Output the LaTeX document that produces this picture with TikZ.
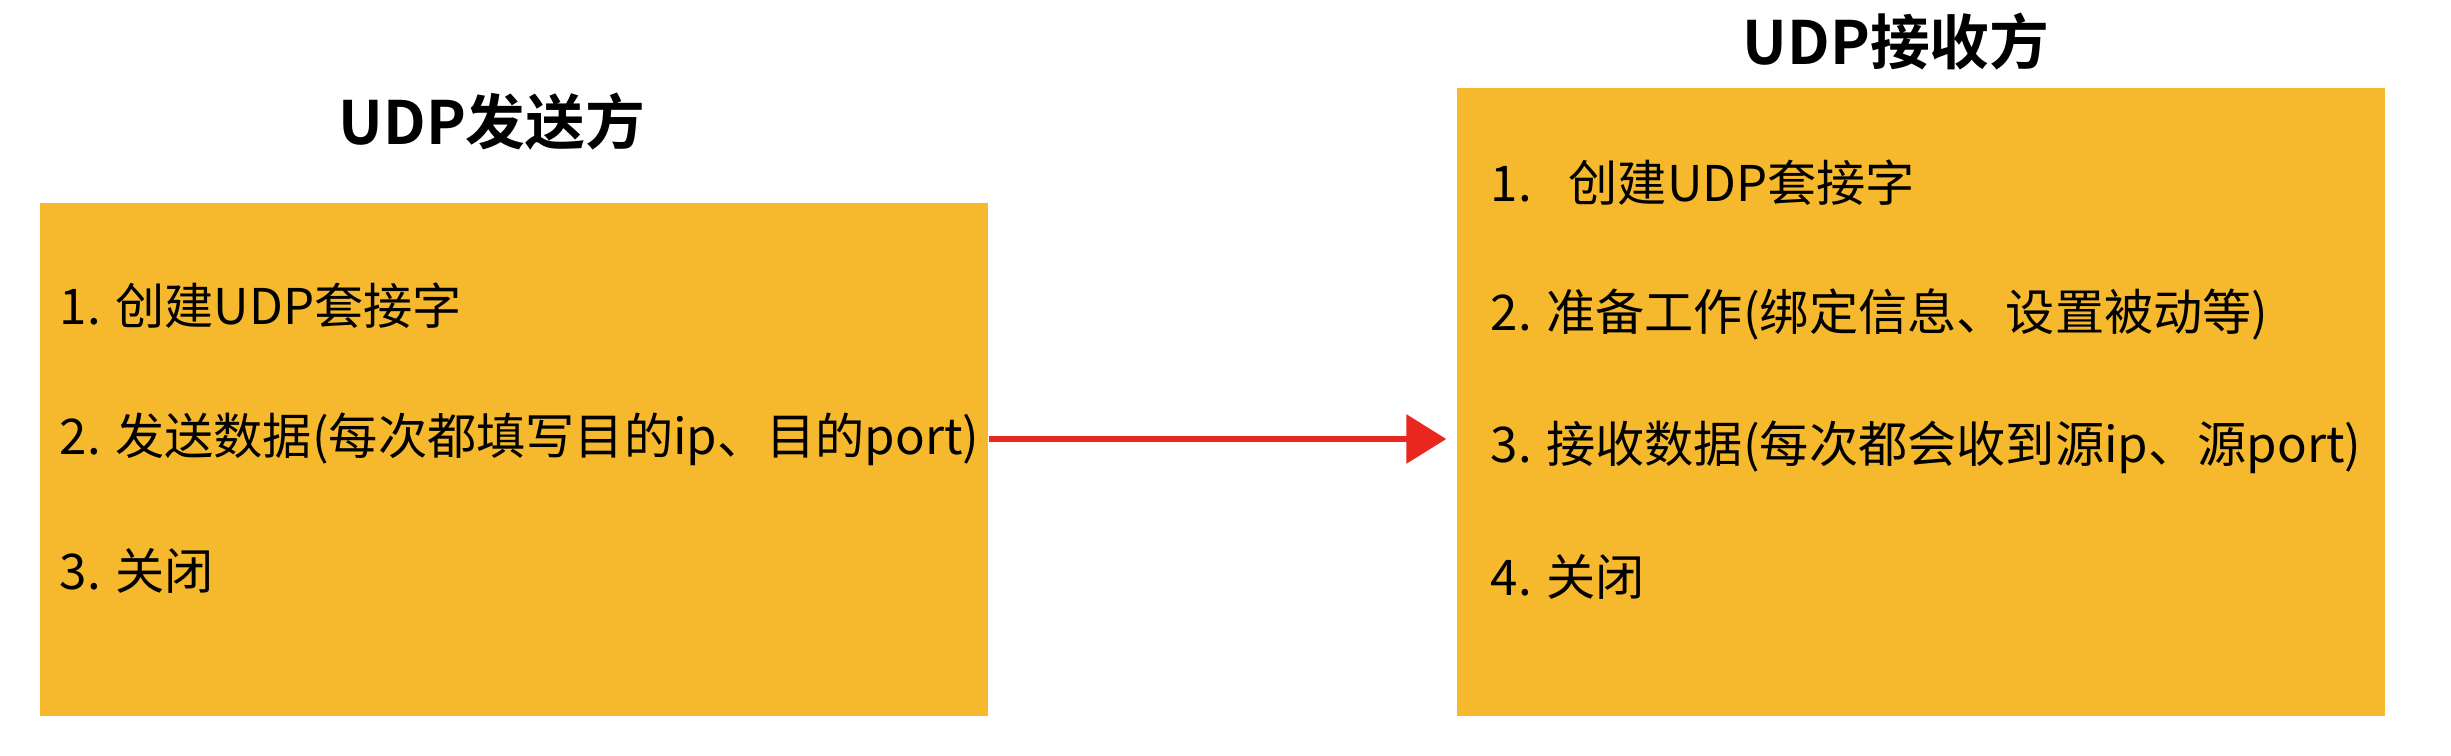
\documentclass[tikz,border=0pt]{standalone}
\usepackage{fontspec}
\setmainfont{Noto Sans CJK SC}[BoldFont={Noto Sans CJK SC Bold}]
\usepackage{xcolor}
\usetikzlibrary{arrows.meta}

\definecolor{boxyellow}{HTML}{F6B82C}
\definecolor{arrowred}{HTML}{E8271F}

\begin{document}
\begin{tikzpicture}[
    >=Triangle,
    panel/.style={rectangle, fill=boxyellow, draw=none, inner sep=0pt},
    title/.style={font=\fontsize{17}{20}\selectfont\bfseries},
    item/.style={anchor=west, inner sep=0pt, font=\fontsize{14}{16}\selectfont},
    sendarrow/.style={line width=1.8pt, arrowred, shorten >=1mm, -{Triangle[length=4mm, width=4.8mm]}},
]
    \useasboundingbox (0,0) rectangle (24.51,7.55);

    % ===== SENDER =====
    \node[panel, minimum width=9.48cm, minimum height=5.13cm] (sender) at (5.14,2.955) {};
    \node[title] (sendtitle) at (4.92,6.33) {UDP发送方};
    \node[item] (sendone) at (0.59,4.49) {1. 创建UDP套接字};
    \node[item] (sendtwo) at (0.59,3.16) {2. 发送数据(每次都填写目的ip、目的port)};
    \node[item] (sendthree) at (0.59,1.84) {3. 关闭};

    % ===== RECEIVER =====
    \node[panel, minimum width=9.28cm, minimum height=6.28cm] (receiver) at (19.21,3.53) {};
    \node[title] (recvtitle) at (18.96,7.13) {UDP接收方};
    \node[item] (recvone) at (14.90,5.72) {1.\hspace{0.75em}创建UDP套接字};
    \node[item] (recvtwo) at (14.90,4.41) {2. 准备工作(绑定信息、设置被动等)};
    \node[item] (recvthree) at (14.90,3.08) {3. 接收数据(每次都会收到源ip、源port)};
    \node[item] (recvfour) at (14.90,1.78) {4. 关闭};

    % ===== ARROW =====
    \draw[sendarrow] (sender.east |- sendtwo) -- (receiver.west |- sendtwo);

\end{tikzpicture}
\end{document}
